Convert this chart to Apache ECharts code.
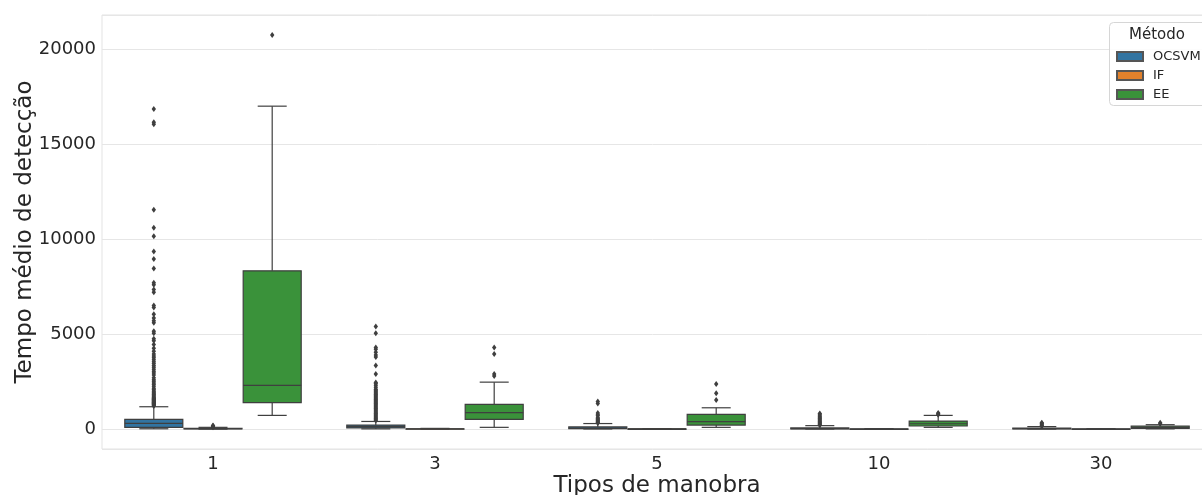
<!DOCTYPE html>
<html>
<head>
<meta charset="utf-8">
<script src="https://cdn.jsdelivr.net/npm/echarts@6/dist/echarts.min.js"></script>
<style>html,body{margin:0;padding:0;background:#fff}#c{width:1202px;height:495px}</style>
</head>
<body>
<div id="c"></div>
<script>
const categories = ['1', '3', '5', '10', '30'];
const methods = ['OCSVM', 'IF', 'EE'];
const colors = ['#3274a1', '#e1812c', '#3a923a'];

// [lower whisker, Q1, median, Q3, upper whisker] per category
const ocsvmStats = [
  [15, 90, 300, 510, 1175],
  [10, 60, 130, 210, 400],
  [5, 20, 50, 110, 290],
  [3, 10, 25, 60, 180],
  [2, 8, 20, 45, 130]
];
const ifStats = [
  [0, 10, 20, 40, 90],
  [0, 3, 8, 15, 35],
  [0, 2, 5, 10, 20],
  [0, 2, 4, 8, 16],
  [0, 1, 3, 6, 12]
];
const eeStats = [
  [720, 1390, 2300, 8330, 17000],
  [90, 510, 860, 1300, 2470],
  [90, 210, 390, 770, 1120],
  [90, 160, 280, 420, 720],
  [10, 40, 90, 150, 230]
];

// outliers per category
const ocsvmOutliers = [
  [1220,1250,1280,1300,1330,1350,1380,1400,1430,1450,1480,1500,1530,1550,1580,1600,1630,1650,1700,1750,1800,1850,1900,1950,2000,2080,2150,2250,2350,2420,2520,2600,2700,2850,2950,3050,3150,3250,3350,3450,3550,3650,3750,3850,3950,4100,4250,4450,4650,4750,5050,5150,5600,5700,5850,6050,6400,6500,7200,7350,7600,7700,8450,8950,9350,10150,10600,11550,16050,16150,16850],
  [450,500,550,600,650,700,750,800,850,900,950,1000,1050,1100,1150,1200,1250,1300,1350,1400,1450,1500,1550,1600,1650,1700,1750,1800,1850,1900,1950,2000,2050,2100,2200,2300,2400,2450,2900,3350,3800,3900,4050,4200,4300,5050,5400],
  [320,350,380,420,460,500,550,600,700,750,850,1350,1450],
  [200,240,280,320,360,400,450,500,550,600,650,700,780,820],
  [150,180,220,260,300,330]
];
const ifOutliers = [
  [100,130,160,190],
  [],
  [],
  [],
  []
];
const eeOutliers = [
  [20750],
  [2800,2900,3950,4300],
  [1530,1880,2370],
  [750,800,850],
  [280,330]
];

const statsList = [ocsvmStats, ifStats, eeStats];
const outlierList = [ocsvmOutliers, ifOutliers, eeOutliers];
const edge = '#3f3f3f';

function boxRenderer(k, color) {
  return function (params, api) {
    const cat = api.value(0);
    const band = api.size([1, 0])[0];
    const slot = band * 0.8 / 3;
    const w = slot * 0.98;
    const cx = api.coord([cat, 0])[0] + (k - 1) * slot;
    const yLo = api.coord([cat, api.value(1)])[1];
    const yQ1 = api.coord([cat, api.value(2)])[1];
    const yMed = api.coord([cat, api.value(3)])[1];
    const yQ3 = api.coord([cat, api.value(4)])[1];
    const yHi = api.coord([cat, api.value(5)])[1];
    const ls = { stroke: edge, lineWidth: 1.2 };
    return {
      type: 'group',
      children: [
        { type: 'line', shape: { x1: cx, y1: yQ3, x2: cx, y2: yHi }, style: ls },
        { type: 'line', shape: { x1: cx, y1: yQ1, x2: cx, y2: yLo }, style: ls },
        { type: 'line', shape: { x1: cx - w / 4, y1: yHi, x2: cx + w / 4, y2: yHi }, style: ls },
        { type: 'line', shape: { x1: cx - w / 4, y1: yLo, x2: cx + w / 4, y2: yLo }, style: ls },
        { type: 'rect', shape: { x: cx - w / 2, y: yQ3, width: w, height: Math.max(yQ1 - yQ3, 0.5) },
          style: { fill: color, stroke: edge, lineWidth: 1.2 } },
        { type: 'line', shape: { x1: cx - w / 2, y1: yMed, x2: cx + w / 2, y2: yMed }, style: ls }
      ]
    };
  };
}

function fliersRenderer(k) {
  return function (params, api) {
    const cat = api.value(0);
    const band = api.size([1, 0])[0];
    const slot = band * 0.8 / 3;
    const cx = api.coord([cat, 0])[0] + (k - 1) * slot;
    const cy = api.coord([cat, api.value(1)])[1];
    return {
      type: 'polygon',
      shape: { points: [[cx, cy - 3], [cx + 2.2, cy], [cx, cy + 3], [cx - 2.2, cy]] },
      style: { fill: edge }
    };
  };
}

const series = [];
methods.forEach(function (m, k) {
  series.push({
    name: m,
    type: 'custom',
    renderItem: boxRenderer(k, colors[k]),
    itemStyle: { color: colors[k], borderColor: '#555555', borderWidth: 0.6 },
    encode: { x: 0, y: [1, 2, 3, 4, 5] },
    data: statsList[k].map(function (s, i) { return [i].concat(s); }),
    z: 2
  });
});
methods.forEach(function (m, k) {
  const pts = [];
  outlierList[k].forEach(function (arr, i) { arr.forEach(function (v) { pts.push([i, v]); }); });
  series.push({
    name: m + ' outliers',
    type: 'custom',
    renderItem: fliersRenderer(k),
    encode: { x: 0, y: 1 },
    data: pts,
    z: 3
  });
});

const chart = echarts.init(document.getElementById('c'), null, { renderer: 'canvas' });
chart.setOption({
  animation: false,
  backgroundColor: '#ffffff',
  textStyle: { fontFamily: 'DejaVu Sans' },
  grid: { left: 102, top: 15, width: 1110, height: 434, outerBoundsMode: 'none', containLabel: false,
    show: true, borderColor: '#e3e3e3', borderWidth: 1, backgroundColor: 'transparent' },
  xAxis: {
    type: 'category',
    data: categories,
    axisTick: { show: false },
    axisLine: { show: false },
    splitLine: { show: false },
    axisLabel: { fontSize: 18, color: '#262626', margin: 6, fontFamily: 'DejaVu Sans' },
    name: 'Tipos de manobra',
    nameLocation: 'middle',
    nameGap: 26,
    nameMoveOverlap: false,
    nameTextStyle: { fontSize: 23, color: '#262626', fontFamily: 'DejaVu Sans' }
  },
  yAxis: {
    type: 'value',
    min: -1050,
    max: 21800,
    splitNumber: 5,
    axisTick: { show: false },
    axisLine: { show: false },
    splitLine: { show: true, lineStyle: { color: '#e6e6e6', width: 1 } },
    axisLabel: { fontSize: 18, color: '#262626', margin: 6, showMinLabel: false, showMaxLabel: false,
      fontFamily: 'DejaVu Sans', formatter: function (v) { return String(v); } },
    name: 'Tempo médio de detecção',
    nameLocation: 'middle',
    nameGap: 65,
    nameMoveOverlap: false,
    nameTextStyle: { fontSize: 23, color: '#262626', fontFamily: 'DejaVu Sans' }
  },
  legend: {
    data: methods,
    orient: 'vertical',
    left: 1116,
    top: 50,
    padding: 0,
    itemWidth: 26,
    itemHeight: 9,
    itemGap: 6,
    icon: 'rect',
    textStyle: { fontSize: 13, color: '#262626', fontFamily: 'DejaVu Sans', padding: [0, 0, 0, 5] },
    z: 10
  },
  graphic: [
    { type: 'rect', left: 1109, top: 22, shape: { width: 110, height: 83, r: 4 },
      style: { fill: 'rgba(255,255,255,0.85)', stroke: '#d6d6d6', lineWidth: 1 }, z: 5 },
    { type: 'text', left: 1129, top: 28, style: { text: 'Método', fontSize: 15, fill: '#262626', fontFamily: 'DejaVu Sans' }, z: 6 }
  ],
  series: series
});
</script>
</body>
</html>
